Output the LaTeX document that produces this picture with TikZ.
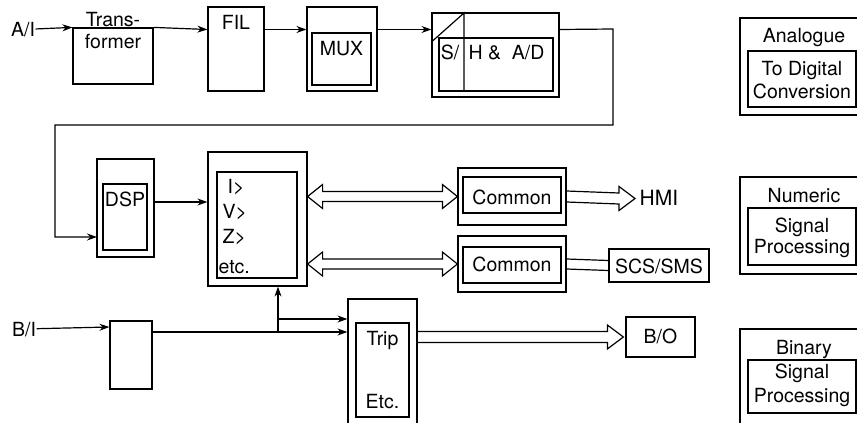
\documentclass[tikz,border=0pt]{standalone}
\usepackage{fontspec}
\setmainfont{TeX Gyre Heros}
\usetikzlibrary{arrows.meta,calc}

\tikzset{
  blk/.style={draw, inner sep=0pt},
  lbl/.style={inner sep=0pt, text height=14pt, text depth=0pt},
  arr/.style={-{Stealth[length=10pt,width=7pt]}},
}
% hollow arrow with a head at both ends
\newcommand\twinarrow[2]{%
  \draw let \p1=(#1), \p2=(#2) in
    (\p1) -- (\x1+15pt,\y1+12pt) -- (\x1+15pt,\y1+5pt) -- (\x2-15pt,\y2+5pt)
    -- (\x2-15pt,\y2+12pt) -- (\p2) -- (\x2-15pt,\y2-12pt) -- (\x2-15pt,\y2-5pt)
    -- (\x1+15pt,\y1-5pt) -- (\x1+15pt,\y1-12pt) -- cycle;}
% hollow arrow with one head
\newcommand\fatarrow[2]{%
  \draw let \p1=(#1), \p2=(#2) in
    (\x1,\y1+5.5pt) -- (\x2-16pt,\y2+5.5pt) -- (\x2-16pt,\y2+12pt) -- (\p2)
    -- (\x2-16pt,\y2-12pt) -- (\x2-16pt,\y2-5.5pt) -- (\x1,\y1-5.5pt);}

\begin{document}
\begin{tikzpicture}[x=1pt, y=-1pt, line width=1.2pt, font=\fontsize{19.5}{23}\selectfont]
  \useasboundingbox (0,0) rectangle (857,423);
  % analogue chain
  \node[lbl] (ai) at (23,29.5) {A/I};
  \node[blk, minimum width=80, minimum height=56] (trf) at (113,56) {};
  \node[lbl] (trfa) at (113,19) {Trans-};
  \node[lbl] (trfb) at (113,41.5) {former};
  \node[blk, minimum width=56, minimum height=84] (fil) at (236,49) {};
  \node[lbl] (filt) at (236,22.5) {FIL};
  \node[blk, minimum width=70, minimum height=84] (muxo) at (342,49) {};
  \node[blk, minimum width=59, minimum height=52] (muxi) at (341.5,59) {};
  \node[lbl] (muxt) at (341.5,48) {MUX};
  \node[blk, minimum width=127, minimum height=84] (sho) at (495.5,55) {};
  \node[blk, minimum width=114, minimum height=53] (shi) at (496,64.5) {};
  \coordinate (shcut) at (464,13);
  \draw (sho.west |- 0,42) -- (shcut) -- (shcut |- shi.south);
  \node[lbl] (sht) at (450,52) {S/};
  \node[lbl, anchor=west] (adt) at (468,52) {H \&\ \ A/D};
  \draw[arr] (ai) -- (trf.north west);
  \draw[arr] (trf.north east) -- (fil.west |- ai);
  \draw[arr] (fil.east |- ai) -- (muxo.west |- ai);
  \draw[arr] (muxo.east |- ai) -- (sho.west |- ai);
  \draw[arr] (sho.east |- ai) -- (613,29) |- (55,125) |- (97,237);
  % numeric part
  \node[blk, minimum width=57, minimum height=98] (dspo) at (125.5,208) {};
  \node[blk, minimum width=44, minimum height=66] (dspi) at (125,217) {};
  \node[lbl] (dspt) at (125,199) {DSP};
  \node[blk, minimum width=99, minimum height=134] (relo) at (257.5,219) {};
  \node[blk, minimum width=80, minimum height=106] (reli) at (257,225) {};
  \node[lbl, anchor=west] (fi) at (227,186) {I>};
  \node[lbl, anchor=west] (fv) at (222,211.5) {V>};
  \node[lbl, anchor=west] (fz) at (222,236) {Z>};
  \node[lbl, anchor=west] (fetc) at (218,266) {etc.};
  \draw[arr] (dspo.east |- 0,202) -- (relo.west |- 0,202);
  \node[blk, minimum width=108, minimum height=57] (com1o) at (512,196.5) {};
  \node[blk, minimum width=98, minimum height=36] (com1i) at (512,195) {};
  \node[lbl] (com1t) at (512,197) {Common};
  \node[blk, minimum width=108, minimum height=56] (com2o) at (512,264) {};
  \node[blk, minimum width=98, minimum height=36] (com2i) at (512,265) {};
  \node[lbl] (com2t) at (512,264.5) {Common};
  \node[lbl, anchor=west, font=\fontsize{21}{24}\selectfont] (hmi) at (639,198.5) {HMI};
  \node[blk, minimum width=100, minimum height=33] (scs) at (659,265.5) {};
  \node[lbl] (scst) at (659,266) {SCS/SMS};
  \twinarrow{relo.east |- com1o.west}{com1o.west}
  \twinarrow{relo.east |- com2o.west}{com2o.west}
  \fatarrow{com1o.east}{$(hmi.west)+(-4,0)$}
  \draw ($(com2o.east)+(0,-5)$) -- ($(scs.west)+(0,-5)$);
  \draw ($(com2o.east)+(0,5)$) -- ($(scs.west)+(0,5)$);
  % binary part
  \node[lbl] (bi) at (24,329) {B/I};
  \node[blk, minimum width=42, minimum height=68] (bin) at (131,355) {};
  \node[blk, minimum width=69, minimum height=135] (tripo) at (382.5,366.5) {};
  \node[blk, minimum width=53, minimum height=94] (tripi) at (382.5,370) {};
  \node[lbl] (tript) at (382.5,338.5) {Trip};
  \node[lbl] (etct) at (382.5,401) {Etc.};
  \node[blk, minimum width=69, minimum height=40] (bo) at (660.5,337) {};
  \node[lbl] (bot) at (660.5,336.5) {B/O};
  \coordinate (jn) at (278,332);
  \draw[arr] (bi) -- (bin.west |- 0,327);
  \draw[arr] (bin.east |- jn) -- (tripo.west |- jn);
  \draw[arr] (jn) -- (jn |- relo.south);
  \draw[arr] (jn |- 0,319) -- (tripo.west |- 0,319);
  \fatarrow{tripo.east |- bo.west}{$(bo.west)+(-2,0)$}
  % legend
  \foreach \i/\yo/\ho/\yi/\hi/\ya/\yb/\yc/\ta/\tb/\tc in {
      a/66.5/97/79/56/35.5/68/91/Analogue/To Digital/Conversion,
      b/225.5/97/236.5/57/195.5/225/246/Numeric/Signal/Processing,
      c/381.5/105/386.5/53/347/371.5/395/Binary/Signal/Processing} {
    \node[blk, minimum width=124, minimum height=\ho] (leg\i) at (802,\yo) {};
    \node[blk, minimum width=108, minimum height=\hi] (legin\i) at (802,\yi) {};
    \node[lbl] (lega\i) at (804,\ya) {\ta};
    \node[lbl] (legb\i) at (802,\yb) {\tb};
    \node[lbl] (legc\i) at (802,\yc) {\tc};
  }
\end{tikzpicture}
\end{document}
